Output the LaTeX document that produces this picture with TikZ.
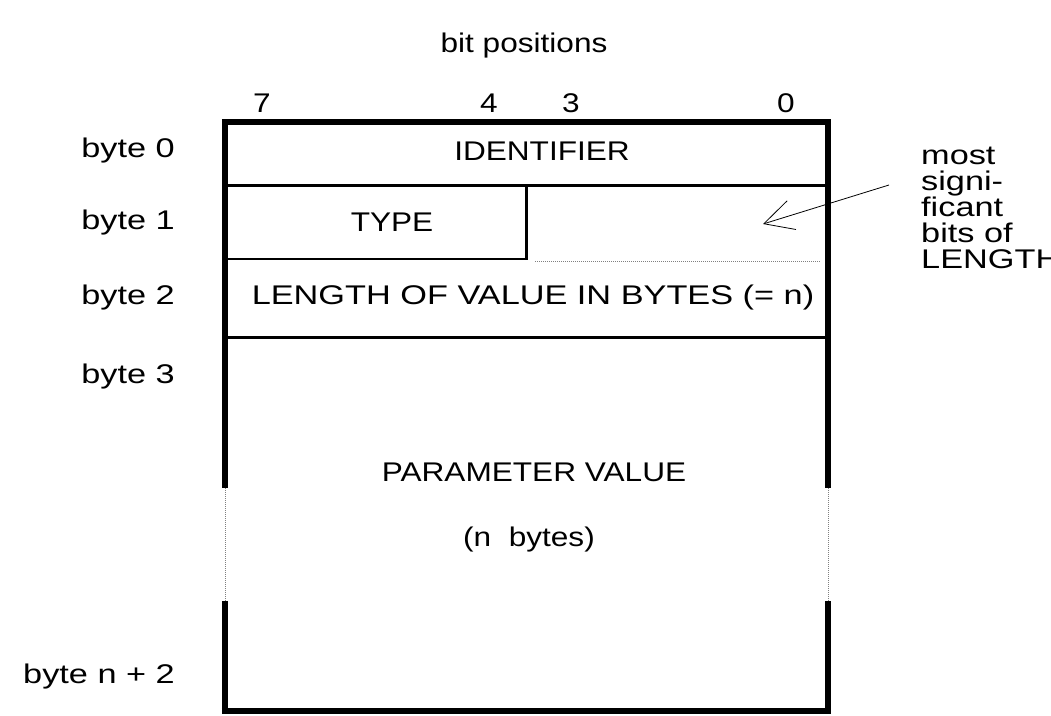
\documentclass[tikz,border=0pt]{standalone}
\usepackage{fontspec}
\setmainfont{Liberation Sans}[FakeStretch=1.17]
\newfontfamily\widefont{Liberation Sans}[FakeStretch=1.27]
\usetikzlibrary{arrows.meta}
\tikzset{
  lbl/.style={inner sep=0pt, font=\fontsize{27}{30}\selectfont},
  widelbl/.style={inner sep=0pt, font=\widefont\fontsize{27}{30}\selectfont},
  frame/.style={line width=6.5pt, line cap=butt},
  rowline/.style={line width=3pt},
  thinbox/.style={line width=2.5pt},
  dotline/.style={line width=0.9pt, gray, dash pattern=on 1pt off 1pt},
}
\begin{document}
\begin{tikzpicture}[x=1pt,y=-1pt]
\useasboundingbox (0,0) rectangle (1051,715);
% corners
\coordinate (tl) at (225,122);
\coordinate (tr) at (828,122);
\coordinate (bl) at (225,711);
\coordinate (br) at (828,711);
\coordinate (lgap1) at (225,488);
\coordinate (lgap2) at (225,601);
\coordinate (rgap1) at (828,488);
\coordinate (rgap2) at (828,601);
\coordinate (l1) at (225,185);
\coordinate (r1) at (828,185);
\coordinate (l3) at (225,337);
\coordinate (r3) at (828,337);
\coordinate (tyr) at (526.5,185);
\coordinate (tybr) at (526.5,259);
\coordinate (tybl) at (225,259);
\coordinate (dl) at (535,261);
\coordinate (dr) at (820,261);
% outer frame
\draw[frame] ([xshift=-3.25pt]tl) -- ([xshift=3.25pt]tr);
\draw[frame] ([xshift=-3.25pt]bl) -- ([xshift=3.25pt]br);
\draw[frame] ([yshift=-3.25pt]tl) -- (lgap1);
\draw[frame] ([yshift=-3.25pt]tr) -- (rgap1);
\draw[frame] (lgap2) -- ([yshift=3.25pt]bl);
\draw[frame] (rgap2) -- ([yshift=3.25pt]br);
\draw[dotline] (lgap1) -- (lgap2);
\draw[dotline] (rgap1) -- (rgap2);
% row lines
\draw[rowline] (l1) -- (r1);
\draw[rowline] (l3) -- (r3);
% type box
\draw[thinbox] (tyr) -- (tybr) -- (tybl);
\draw[dotline] (dl) -- (dr);
% header
\node[lbl] (bitpos) at (524,46) {bit positions};
\node[lbl] (b7) at (262,103) {7};
\node[lbl] (b4) at (489,103) {4};
\node[lbl] (b3) at (571,103) {3};
\node[lbl] (b0) at (786,103) {0};
% byte labels
\node[widelbl,anchor=east] (y0) at (175,151) {byte 0};
\node[widelbl,anchor=east] (y1) at (175,223) {byte 1};
\node[widelbl,anchor=east] (y2) at (175,298) {byte 2};
\node[widelbl,anchor=east] (y3) at (175,377) {byte 3};
\node[widelbl,anchor=east] (yn) at (175,677) {byte n + 2};
% fields
\node[lbl] (ident) at (542,151) {IDENTIFIER};
\node[lbl] (type) at (392,222) {TYPE};
\node[widelbl] (len) at (533,298) {LENGTH OF VALUE IN BYTES (= n)};
\node[lbl] (param) at (534,472) {PARAMETER VALUE};
\node[lbl] (nb) at (529,540) {(n\ \ bytes)};
% note
\node[widelbl,anchor=north west,align=left,font=\widefont\fontsize{27}{26}\selectfont] (note) at (921,147) {most\\signi-\\ficant\\bits of\\LENGTH};
\coordinate (arrstart) at (889,185);
\coordinate (arrtip) at (763,224);
\draw[line width=0.8pt,-{Straight Barb[length=29pt,width=30pt,line width=0.8pt]}] (arrstart) -- (arrtip);
\end{tikzpicture}
\end{document}
